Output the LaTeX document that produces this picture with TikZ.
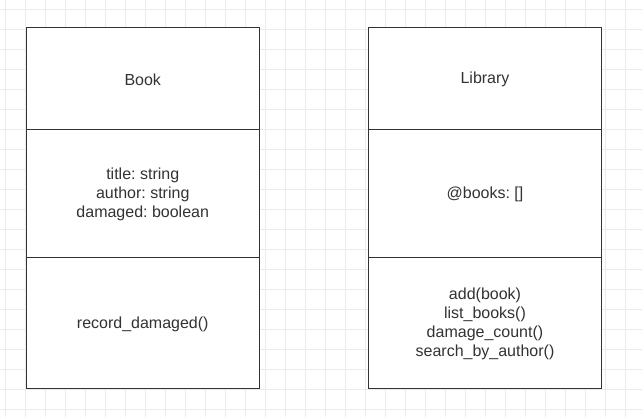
\documentclass[tikz,border=0pt]{standalone}
\usepackage{fontspec}
\setmainfont{Liberation Sans}
\frenchspacing
\definecolor{gridc}{RGB}{235,235,235}
\definecolor{linec}{RGB}{51,51,51}
\definecolor{textc}{RGB}{51,51,51}
\begin{document}
\begin{tikzpicture}[x=1bp,y=-1bp,
  cell/.style={draw=linec, line width=1bp, fill=white, minimum width=233bp, inner sep=0pt},
  celltext/.style={inner sep=0pt, align=center, text=textc, font=\fontsize{16bp}{19bp}\selectfont}]
\useasboundingbox (0,0) rectangle (642,417);
\fill[white] (0,0) rectangle (642,417);
\foreach \x in {5,25,...,645} \draw[gridc, line width=1bp] (\x,0) -- (\x,417);
\foreach \y in {9,29,...,417} \draw[gridc, line width=1bp] (0,\y) -- (642,\y);
% Book
\node[cell, minimum height=102bp] (bookname) at (142.75,78.5) {};
\node[cell, minimum height=128bp] (bookattr) at (142.75,193.5) {};
\node[cell, minimum height=130.5bp] (bookops) at (142.75,322.75) {};
% Library
\node[cell, minimum height=102bp] (libname) at (485,78.5) {};
\node[cell, minimum height=128bp] (libattr) at (485,193.5) {};
\node[cell, minimum height=130.5bp] (libops) at (485,322.75) {};
% texts
\node[celltext] (booknamet) at ([yshift=-1.2bp]bookname.center) {Book};
\node[celltext] (bookattrt) at ([yshift=-1.2bp]bookattr.center) {title: string\\author: string\\damaged: boolean};
\node[celltext] (bookopst) at ([yshift=-1.2bp]bookops.center) {record\_damaged()};
\node[celltext] (libnamet) at ([yshift=-1.2bp]libname.center) {Library};
\node[celltext] (libattrt) at ([yshift=-1.2bp]libattr.center) {@books: []};
\node[celltext] (libopst) at ([yshift=-1.2bp]libops.center) {add(book)\\list\_books()\\damage\_count()\\search\_by\_author()};
\end{tikzpicture}
\end{document}
